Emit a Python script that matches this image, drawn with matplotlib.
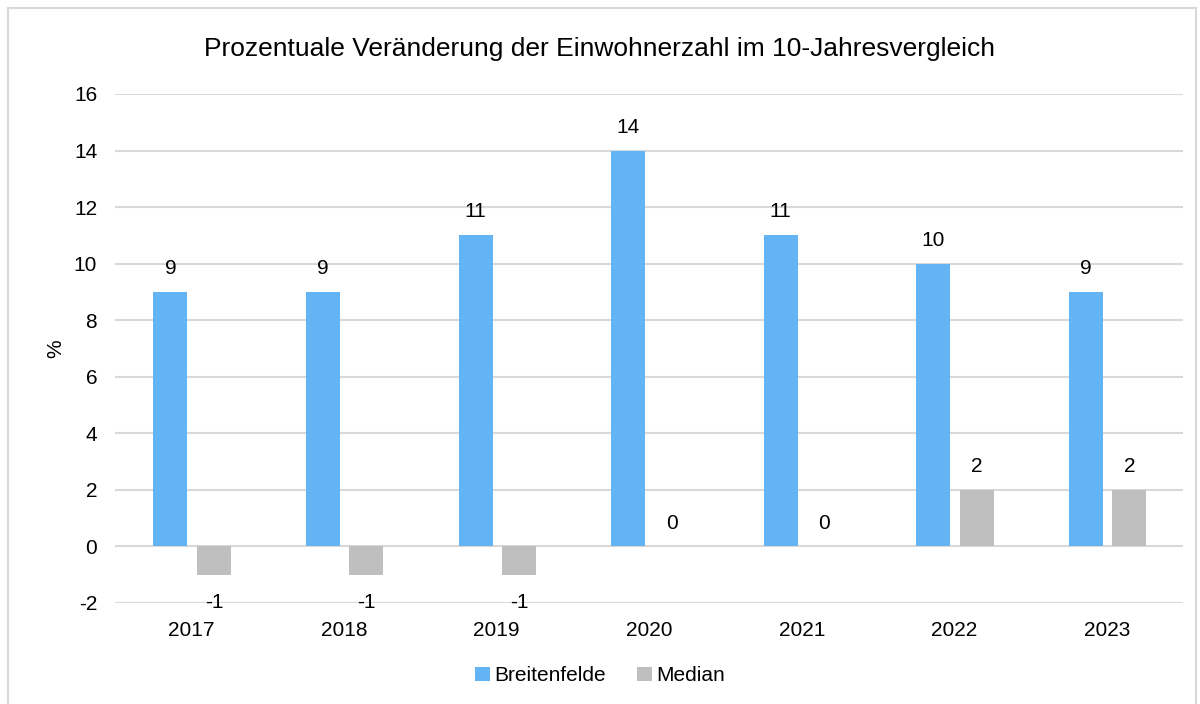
import matplotlib.pyplot as plt
from matplotlib.patches import Rectangle
import numpy as np

plt.rcParams['font.family'] = ['Liberation Sans', 'DejaVu Sans']
plt.rcParams['axes.unicode_minus'] = False

years = ['2017', '2018', '2019', '2020', '2021', '2022', '2023']
breitenfelde = [9, 9, 11, 14, 11, 10, 9]
median = [-1, -1, -1, 0, 0, 2, 2]

blue = '#63b4f5'
grey = '#bfbfbf'

fig = plt.figure(figsize=(12, 7.04), dpi=100)
ax = fig.add_axes([0.096, 0.1435, 0.89, 0.723])

x = np.arange(len(years))
w = 0.223
b1 = ax.bar(x - 0.138, breitenfelde, w, color=blue, label='Breitenfelde', zorder=2)
b2 = ax.bar(x + 0.147, median, w, color=grey, label='Median', zorder=2)

fs = 15
for xi, v in zip(x - 0.138, breitenfelde):
    ax.annotate(str(v), (xi, v), xytext=(0, 10), textcoords='offset points',
                ha='center', va='bottom', fontsize=fs)
for xi, v in zip(x + 0.147, median):
    if v < 0:
        ax.annotate(str(v), (xi, -2), xytext=(0, 0), textcoords='offset points',
                    ha='center', va='center', fontsize=fs)
    else:
        ax.annotate(str(v), (xi, v), xytext=(0, 10), textcoords='offset points',
                    ha='center', va='bottom', fontsize=fs)

ax.set_xlim(-0.5, len(years) - 0.5)
ax.set_ylim(-2, 16)
ax.set_yticks(range(-2, 17, 2))
ax.set_xticks(x)
ax.set_xticklabels(years)
ax.tick_params(axis='both', length=0, labelsize=fs)
ax.tick_params(axis='y', pad=13)
ax.tick_params(axis='x', pad=13)
ax.grid(axis='y', color='#d9d9d9', linewidth=1.5, zorder=0)
for s in ax.spines.values():
    s.set_visible(False)
ax.set_ylabel('%', fontsize=fs, labelpad=6)

fig.suptitle('Prozentuale Veränderung der Einwohnerzahl im 10-Jahresvergleich',
             fontsize=19, y=0.947)

fig.legend(handles=[b1, b2], loc='center', bbox_to_anchor=(0.5, 0.04), ncol=2,
           frameon=False, fontsize=fs, handlelength=0.7, handleheight=0.7,
           handletextpad=0.2, columnspacing=1.5)

fig.patches.append(Rectangle((0.007, -0.01), 0.99, 0.999, transform=fig.transFigure,
                             fill=False, edgecolor='#d9d9d9', linewidth=1.5))

fig.savefig('out.png', dpi=100)
